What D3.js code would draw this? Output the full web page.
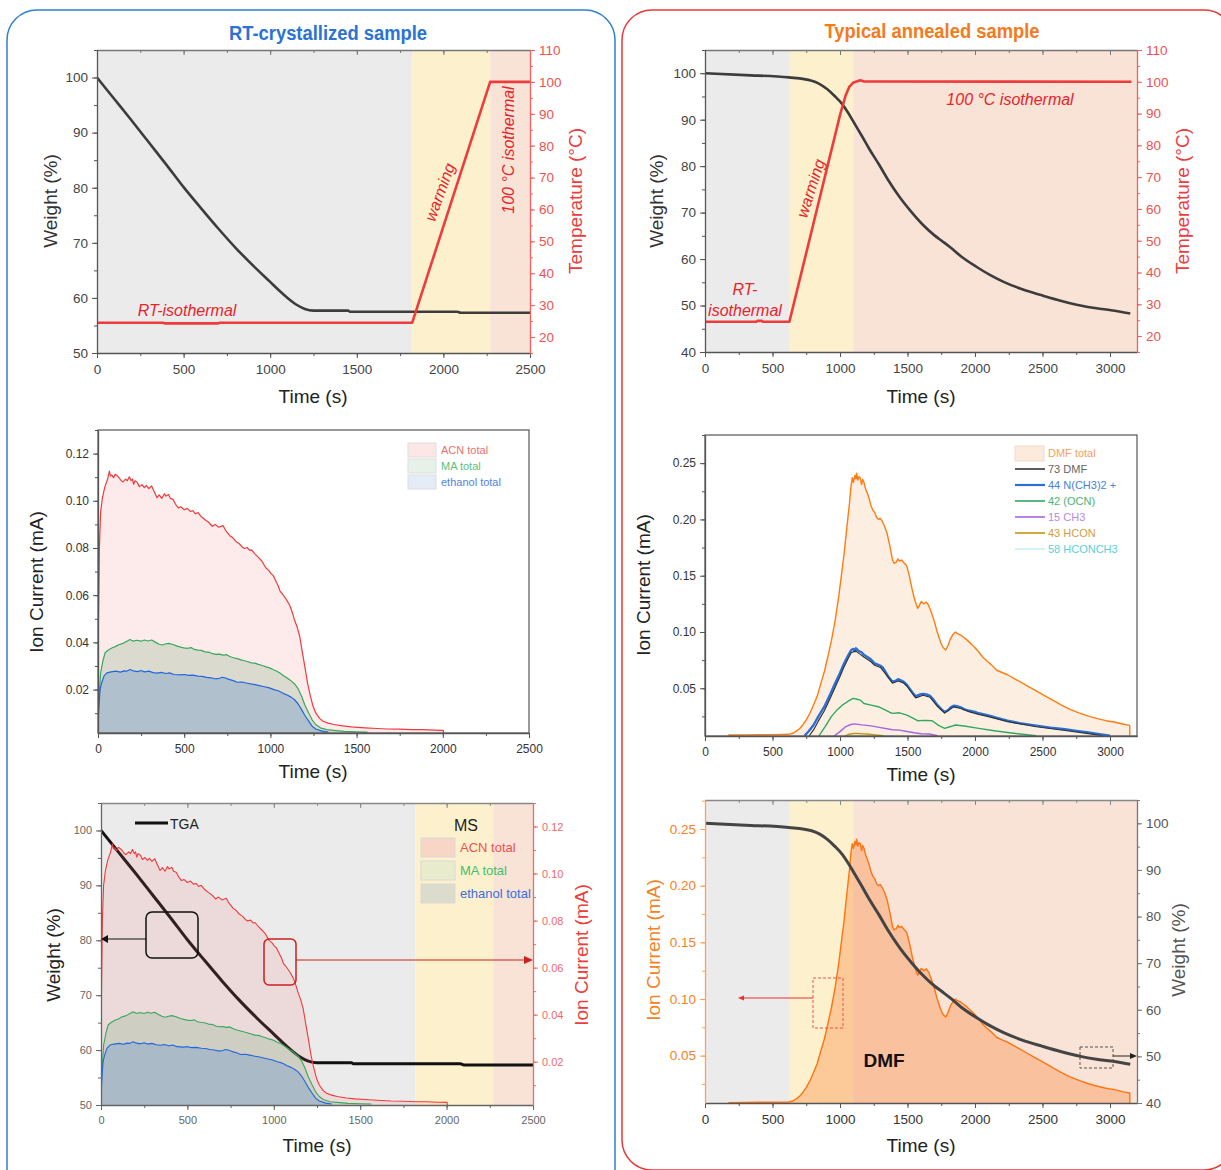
<!DOCTYPE html>
<html>
<head>
<meta charset="utf-8">
<script src="https://cdn.jsdelivr.net/npm/d3@7/dist/d3.min.js"></script>
<style>body{margin:0;background:#fff}</style>
</head>
<body>
<script>
// ---------- data ----------
// TGA of the RT-crystallized sample
const rtWeightTime = [0, 100, 200, 300, 400, 500, 600, 700, 800, 900, 1000, 1050, 1100, 1150, 1200, 1250, 1300, 1450, 1460, 1800, 2080, 2100, 2500]
const rtWeight = [100, 96.1, 92.2, 88.2, 84.2, 80.1, 76.3, 72.6, 69.1, 65.9, 62.9, 61.4, 60.0, 58.8, 58.0, 57.7, 57.7, 57.7, 57.5, 57.5, 57.5, 57.3, 57.3]
const rtTempTime = [0, 380, 390, 700, 710, 1820, 2270, 2500]
const rtTemp = [24.5, 24.5, 24.3, 24.3, 24.5, 24.5, 100, 100]
const rtBandStart = [0, 1820, 2270]
const rtBandEnd = [1820, 2270, 2500]

// MS of the RT-crystallized sample
const acnTime = [0,2,8,15,25,40,55,66,72,80,90,100,114,125,135,145,160,170,182,192,200,207,215,228,240,255,269,280,295,311,325,342,355,370,385,394,410,420,435,450,466,480,500,518,535,550,565,580,600,621,640,663,680,700,725,740,766,780,800,820,835,849,865,880,891,910,932,950,973,990,1005,1015,1030,1045,1056,1070,1085,1098,1115,1130,1139,1155,1170,1185,1201,1216,1232,1247,1263,1285,1305,1335,1367,1420,1470,1550,1620,1678,1750,1820,1885,1950,2003,2004]
const acnIon = [0.020,0.045,0.080,0.095,0.101,0.106,0.109,0.1126,0.1105,0.111,0.1098,0.1112,0.1105,0.1095,0.1085,0.108,0.1092,0.1085,0.1102,0.1085,0.1092,0.107,0.1085,0.1078,0.1060,0.1068,0.1056,0.1065,0.1052,0.1063,0.1040,0.1013,0.1025,0.1010,0.1030,0.1020,0.1027,0.1010,0.1006,0.0985,0.0970,0.0975,0.0962,0.0968,0.0955,0.0958,0.0945,0.0950,0.0932,0.0920,0.0910,0.0892,0.0900,0.0888,0.0895,0.0875,0.0851,0.0845,0.0828,0.0818,0.0805,0.0798,0.0802,0.0790,0.0792,0.0775,0.0759,0.0745,0.0716,0.0705,0.0690,0.0685,0.0662,0.0640,0.0617,0.0605,0.0590,0.0575,0.0552,0.0520,0.0497,0.0465,0.0426,0.0360,0.0292,0.0225,0.0172,0.0130,0.0101,0.0078,0.0066,0.0058,0.0052,0.0046,0.0042,0.0038,0.0035,0.0033,0.0032,0.0030,0.0030,0.0028,0.0027,0.0016]
const maTime = [0,5,15,28,41,60,83,100,120,145,165,186,205,225,249,270,290,311,335,355,373,390,410,435,460,480,497,520,540,559,580,600,621,645,665,684,705,725,746,765,785,808,830,850,870,891,910,930,953,975,995,1015,1035,1055,1077,1095,1115,1139,1160,1181,1200,1222,1242,1263,1290,1326,1380,1429,1500,1564]
const maIon = [0.006,0.015,0.027,0.032,0.0356,0.0368,0.0377,0.0382,0.0390,0.0396,0.0404,0.0412,0.0405,0.0409,0.0405,0.0410,0.0406,0.0410,0.0400,0.0392,0.0389,0.0393,0.0396,0.0391,0.0384,0.0380,0.0377,0.0375,0.0378,0.0370,0.0367,0.0366,0.0360,0.0358,0.0352,0.0349,0.0350,0.0346,0.0348,0.0340,0.0335,0.0331,0.0326,0.0322,0.0318,0.0313,0.0312,0.0307,0.0302,0.0296,0.0292,0.0285,0.0279,0.0270,0.0259,0.0250,0.0240,0.0225,0.0205,0.0172,0.0135,0.0101,0.0072,0.0052,0.0038,0.0030,0.0026,0.0023,0.0021,0.0020]
const ethTime = [0,4,12,21,35,52,75,104,130,150,166,186,205,230,250,269,295,320,345,365,394,415,440,476,500,525,550,580,605,630,655,684,705,720,735,760,785,808,835,860,885,911,935,960,994,1020,1045,1060,1077,1100,1120,1139,1160,1181,1200,1222,1242,1263,1300,1336]
const ethIon = [0.003,0.0115,0.020,0.0228,0.0258,0.0271,0.0275,0.0278,0.0274,0.0279,0.0278,0.0285,0.0279,0.0276,0.0281,0.0275,0.0278,0.0272,0.0270,0.0273,0.0268,0.0271,0.0264,0.0262,0.0264,0.0260,0.0261,0.0257,0.0256,0.0252,0.0250,0.0245,0.0248,0.0252,0.0250,0.0243,0.0238,0.0231,0.0232,0.0228,0.0224,0.0221,0.0217,0.0213,0.0207,0.0200,0.0195,0.0190,0.0183,0.0176,0.0168,0.0158,0.0140,0.0115,0.0090,0.0066,0.0045,0.0033,0.0024,0.0020]

// TGA of the annealed sample
const anWeightTime = [0, 300, 620, 790, 904, 960, 1018, 1060, 1103, 1160, 1217, 1290, 1359, 1440, 1530, 1610, 1700, 1760, 1814, 1900, 2013, 2110, 2212, 2350, 2496, 2640, 2781, 2900, 3008, 3150]
const anWeight = [100, 99.6, 99.1, 98.4, 96.6, 95.1, 93.3, 91.5, 89.4, 86.6, 83.7, 80.3, 76.9, 73.4, 70.1, 67.5, 65.1, 63.8, 62.6, 60.5, 58.3, 56.6, 55.1, 53.5, 52.2, 51.0, 50.0, 49.4, 49.0, 48.3]
const anTempTime = [0, 380, 390, 420, 430, 625, 1000, 1040, 1070, 1100, 1150, 1180, 3159]
const anTemp = [24.5, 24.5, 24.8, 24.8, 24.5, 24.5, 89.5, 95.5, 98.5, 99.8, 100.5, 100.1, 100]
const anBandStart = [0, 622, 1098]
const anBandEnd = [622, 1098, 3200]

// MS of the annealed sample
const dmfTime = [173,300,400,500,618,650,671,700,724,750,777,800,830,855,884,910,937,965,990,1010,1030,1050,1070,1080,1091,1100,1110,1118,1123,1132,1140,1150,1160,1168,1177,1190,1203,1215,1230,1245,1258,1270,1285,1298,1310,1330,1350,1370,1389,1400,1416,1430,1440,1456,1470,1485,1496,1515,1536,1555,1575,1585,1602,1620,1640,1655,1675,1695,1720,1748,1765,1783,1800,1815,1835,1855,1870,1890,1909,1940,1975,2000,2030,2055,2090,2120,2161,2200,2241,2300,2374,2440,2508,2575,2641,2700,2774,2840,2907,2970,3040,3100,3146,3147]
const dmfIon = [0.0085,0.0086,0.0088,0.0088,0.0091,0.0100,0.0115,0.0140,0.0174,0.0220,0.0278,0.0340,0.0426,0.0530,0.0647,0.0780,0.0927,0.1110,0.1310,0.1500,0.1690,0.1920,0.2140,0.2280,0.2370,0.2330,0.2390,0.2360,0.2410,0.2350,0.2380,0.2370,0.2310,0.2355,0.2330,0.2270,0.2230,0.2190,0.2120,0.2080,0.2060,0.2020,0.2000,0.2010,0.1990,0.1940,0.1870,0.1760,0.1640,0.1610,0.1620,0.1650,0.1630,0.1640,0.1620,0.1600,0.1580,0.1490,0.1370,0.1280,0.1210,0.1230,0.1270,0.1250,0.1265,0.1240,0.1180,0.1110,0.1000,0.0900,0.0860,0.0840,0.0880,0.0930,0.0975,0.1000,0.0985,0.0975,0.0960,0.0930,0.0890,0.0860,0.0820,0.0780,0.0740,0.0710,0.0660,0.0640,0.0620,0.0580,0.0530,0.0485,0.0440,0.0395,0.0350,0.0315,0.0280,0.0252,0.0230,0.0212,0.0198,0.0180,0.0170,0.0078]
const m44Time = [737,770,804,840,884,925,964,1000,1030,1060,1083,1100,1110,1118,1140,1160,1177,1200,1230,1256,1280,1300,1320,1336,1360,1389,1410,1430,1443,1470,1496,1520,1545,1562,1580,1600,1615,1640,1668,1695,1722,1750,1775,1800,1820,1842,1870,1895,1922,1960,2000,2028,2100,2170,2241,2330,2454,2560,2667,2750,2827,2910,3000]
const m44Ion = [0.0078,0.0120,0.0174,0.0250,0.0336,0.0440,0.0544,0.0635,0.0720,0.0790,0.0840,0.0850,0.0830,0.0855,0.0830,0.0820,0.0797,0.0780,0.0755,0.0721,0.0710,0.0700,0.0680,0.0647,0.0600,0.0558,0.0565,0.0580,0.0575,0.0560,0.0530,0.0490,0.0450,0.0426,0.0440,0.0448,0.0450,0.0445,0.0432,0.0395,0.0350,0.0315,0.0290,0.0305,0.0330,0.0345,0.0340,0.0330,0.0313,0.0300,0.0290,0.0278,0.0258,0.0235,0.0213,0.0190,0.0168,0.0150,0.0136,0.0122,0.0110,0.0095,0.0078]
const m73Time = [772,804,840,884,925,964,1000,1030,1060,1083,1100,1118,1140,1177,1230,1256,1300,1336,1389,1430,1470,1496,1545,1562,1615,1668,1722,1775,1842,1895,1960,2028,2100,2241,2454,2667,2827,2947]
const m73Ion = [0.0078,0.0130,0.0210,0.0300,0.0405,0.0510,0.0605,0.0690,0.0765,0.0815,0.0825,0.0830,0.0810,0.0778,0.0735,0.0705,0.0685,0.0630,0.0545,0.0565,0.0548,0.0518,0.0438,0.0415,0.0438,0.0420,0.0340,0.0280,0.0335,0.0320,0.0290,0.0268,0.0248,0.0203,0.0158,0.0125,0.0100,0.0078]
const m42Time = [844,890,937,980,1017,1060,1097,1120,1150,1177,1230,1283,1330,1370,1389,1440,1496,1540,1575,1630,1682,1730,1775,1820,1855,1920,2028,2130,2241,2350,2454]
const m42Ion = [0.0078,0.0160,0.0250,0.0310,0.0350,0.0385,0.0410,0.0405,0.0395,0.0365,0.0350,0.0336,0.0310,0.0285,0.0277,0.0282,0.0262,0.0235,0.0212,0.0215,0.0212,0.0170,0.0144,0.0160,0.0174,0.0165,0.0144,0.0125,0.0107,0.0092,0.0078]
const m15Time = [958,1000,1043,1080,1110,1160,1230,1300,1389,1440,1496,1550,1602,1660,1722]
const m15Ion = [0.0078,0.0115,0.0160,0.0178,0.0184,0.0175,0.0166,0.0150,0.0131,0.0128,0.0116,0.0105,0.0096,0.0094,0.0078]
const m43Time = [1040,1070,1100,1123,1160,1203,1260,1323]
const m43Ion = [0.0080,0.0092,0.0098,0.0099,0.0096,0.0094,0.0086,0.0078]
const m58Time = [1050, 1400]
const m58Ion = [0.0079, 0.0079]

const msLegendRT = ['ACN total', 'MA total', 'ethanol total']
const msLegendAn = ['DMF total', '73 DMF', '44 N(CH3)2 +', '42 (OCN)', '15 CH3', '43 HCON', '58 HCONCH3']

// ---------- drawing ----------
const F = '"Liberation Sans", Arial, Helvetica, sans-serif'
let svg = d3.select('body').append('svg')
    .attr('width', 1221).attr('height', 1170)
    .style('font-family', F)

let defs = svg.append('defs')
let clipN = 0

function panel(x0, x1, y0, y1, tMax) {
    let id = 'clip' + (++clipN)
    defs.append('clipPath').attr('id', id)
        .append('rect').attr('x', x0).attr('y', y0).attr('width', x1 - x0).attr('height', y1 - y0)
    let g = svg.append('g')
    let x = d3.scaleLinear().domain([0, tMax]).range([x0, x1])
    return { g, x, x0, x1, y0, y1, clip: 'url(#' + id + ')' }
}

function axis(p, scale, side, majors, minors, lineCol, textCol, fs, fmt) {
    let mk = { left: d3.axisLeft, right: d3.axisRight, top: d3.axisTop, bottom: d3.axisBottom }[side]
    let pos = { left: [p.x0, 0], right: [p.x1, 0], top: [0, p.y0], bottom: [0, p.y1] }[side]
    let inward = side === 'top'
    let g = p.g.append('g').attr('transform', 'translate(' + pos[0] + ',' + pos[1] + ')')
    if (minors) {
        g.append('g').call(mk(scale).tickValues(minors).tickSize(inward ? -3 : 3).tickSizeOuter(0).tickFormat(''))
            .call(s => {
                s.selectAll('line').attr('stroke', lineCol)
                s.select('.domain').attr('stroke', lineCol)
            })
    }
    let a = g.append('g').call(mk(scale).tickValues(majors).tickSize(inward ? -5 : 5).tickSizeOuter(0)
        .tickPadding(side === 'bottom' ? 6 : 4)
        .tickFormat(fmt || (() => '')))
    a.attr('font-family', F).attr('font-size', fs)
    a.selectAll('line').attr('stroke', lineCol).attr('stroke-width', 1)
    a.select('.domain').attr('stroke', lineCol).attr('stroke-width', 1.3)
    a.selectAll('text').attr('fill', textCol)
}

function title(txt, x, y, color, rot, size) {
    svg.append('text').text(txt)
        .attr('transform', 'translate(' + x + ',' + y + ')' + (rot ? ' rotate(' + rot + ')' : ''))
        .attr('text-anchor', 'middle').attr('dominant-baseline', 'middle')
        .attr('font-size', size || 19).attr('fill', color)
}

function bands(p, starts, ends) {
    let cols = ['#ebebeb', '#fdf1cd', '#f9e2d6']
    p.g.selectAll(null).data(d3.range(starts.length)).enter().append('rect')
        .attr('x', i => p.x(starts[i])).attr('width', i => p.x(ends[i]) - p.x(starts[i]))
        .attr('y', p.y0).attr('height', p.y1 - p.y0)
        .attr('fill', i => cols[i])
}

function line(p, ys, ts, vs, color, w, smooth) {
    return p.g.append('path').datum(d3.zip(ts, vs))
        .attr('clip-path', p.clip)
        .attr('fill', 'none').attr('stroke', color).attr('stroke-width', w)
        .attr('stroke-linejoin', 'round')
        .attr('d', d3.line().curve(smooth ? d3.curveMonotoneX : d3.curveLinear)
            .x(d => p.x(d[0])).y(d => ys(d[1])))
}

function area(p, ys, ts, vs, fill, op) {
    return p.g.append('path').datum(d3.zip(ts, vs))
        .attr('clip-path', p.clip)
        .attr('fill', fill).attr('fill-opacity', op)
        .attr('d', d3.area().x(d => p.x(d[0])).y0(ys.range()[0]).y1(d => ys(d[1])))
}

const fmt2 = d3.format('.2f')
const dark = '#444'
const red = '#ee3b3b'
const orange = '#f7801f'

// frames and titles
svg.append('rect').attr('x', 7).attr('y', 10).attr('width', 608).attr('height', 1195).attr('rx', 30)
    .attr('fill', 'none').attr('stroke', '#2f7fd3').attr('stroke-width', 1.5)
svg.append('rect').attr('x', 622).attr('y', 10).attr('width', 612).attr('height', 1160).attr('rx', 30)
    .attr('fill', 'none').attr('stroke', '#e8393a').attr('stroke-width', 1.5)
svg.append('text').text('RT-crystallized sample').attr('x', 328).attr('y', 40)
    .attr('text-anchor', 'middle').attr('font-weight', 'bold').attr('font-size', 20)
    .attr('textLength', 198).attr('lengthAdjust', 'spacingAndGlyphs').attr('fill', '#2a72d4')
svg.append('text').text('Typical annealed sample').attr('x', 932).attr('y', 38)
    .attr('text-anchor', 'middle').attr('font-weight', 'bold').attr('font-size', 20)
    .attr('textLength', 215).attr('lengthAdjust', 'spacingAndGlyphs').attr('fill', '#f47a1c')

const t2500 = [0, 500, 1000, 1500, 2000, 2500]
const t2500m = d3.range(0, 2501, 250)
const t3000 = [0, 500, 1000, 1500, 2000, 2500, 3000]
const t3000m = d3.range(0, 3201, 250)
const w50 = [50, 60, 70, 80, 90, 100]
const w50m = d3.range(50, 106, 5)
const w40 = [40, 50, 60, 70, 80, 90, 100]
const w40m = d3.range(40, 106, 5)
const temps = d3.range(20, 111, 10)
const tempsM = d3.range(15, 111, 5)

// ---------- panel 1: RT TGA ----------
let p1 = panel(97, 530, 50, 353, 2500)
let p1w = d3.scaleLinear().domain([50, 105]).range([353, 50])
let p1t = d3.scaleLinear().domain([15, 110]).range([353, 50])
bands(p1, rtBandStart, rtBandEnd)
line(p1, p1w, rtWeightTime, rtWeight, '#3c3c3c', 2.6, true)
line(p1, p1t, rtTempTime, rtTemp, red, 2.6)
axis(p1, p1.x, 'top', t2500, t2500m, '#777', dark, 13)
axis(p1, p1.x, 'bottom', t2500, t2500m, '#555', dark, 13.5, d3.format('d'))
axis(p1, p1w, 'left', w50, w50m, '#555', dark, 13.5, d3.format('d'))
axis(p1, p1t, 'right', temps, tempsM, '#f06060', '#f05050', 13.5, d3.format('d'))
title('Weight (%)', 52, 201, '#333', -90)
title('Temperature (°C)', 577, 201, red, -90)
title('Time (s)', 313, 398, '#222')
svg.append('text').text('RT-isothermal').attr('x', 187).attr('y', 316).attr('text-anchor', 'middle')
    .attr('font-size', 16).attr('font-style', 'italic').attr('fill', '#e8232a')
svg.append('text').text('warming').attr('transform', 'translate(445,194) rotate(-70)').attr('text-anchor', 'middle')
    .attr('font-size', 16).attr('font-style', 'italic').attr('fill', '#e8232a')
svg.append('text').text('100 °C isothermal').attr('transform', 'translate(514,150) rotate(-90)').attr('text-anchor', 'middle')
    .attr('font-size', 16).attr('font-style', 'italic').attr('fill', '#e8232a')

// ---------- panel 2: RT MS ----------
let p2 = panel(98, 529, 430, 733, 2500)
let p2y = d3.scaleLinear().domain([0.0016, 0.130]).range([733, 430])
area(p2, p2y, acnTime, acnIon, '#f07878', 0.15)
area(p2, p2y, maTime, maIon, '#8cb48c', 0.3)
area(p2, p2y, ethTime, ethIon, '#85a6c9', 0.5)
line(p2, p2y, acnTime, acnIon, '#f03a3a', 1.2)
line(p2, p2y, maTime, maIon, '#36a85e', 1.2)
line(p2, p2y, ethTime, ethIon, '#2266dd', 1.2)
p2.g.append('rect').attr('x', 98).attr('y', 430).attr('width', 431).attr('height', 303)
    .attr('fill', 'none').attr('stroke', '#555').attr('stroke-width', 1.2)
axis(p2, p2.x, 'bottom', t2500, t2500m, '#555', '#333', 12, d3.format('d'))
axis(p2, p2y, 'left', [0.02, 0.04, 0.06, 0.08, 0.10, 0.12], d3.range(0.01, 0.131, 0.01), '#555', '#333', 12, fmt2)
title('Ion Current (mA)', 38, 582, '#222', -90)
title('Time (s)', 313, 773, '#222')
let lg2 = p2.g.append('g')
let lg2Fill = ['#fde6e6', '#e6f2e8', '#e4ecf8']
let lg2Text = ['#f07070', '#5cc080', '#5582e0']
lg2.selectAll('rect').data(msLegendRT).enter().append('rect')
    .attr('x', 408).attr('y', (d, i) => 443 + i * 16).attr('width', 28).attr('height', 14)
    .attr('fill', (d, i) => lg2Fill[i]).attr('stroke', '#ddd')
lg2.selectAll('text').data(msLegendRT).enter().append('text')
    .attr('x', 441).attr('y', (d, i) => 454 + i * 16).text(d => d)
    .attr('font-size', 11).attr('fill', (d, i) => lg2Text[i])

// ---------- panel 3: RT overlay ----------
let p3 = panel(101, 533, 803, 1105, 2500)
let p3w = d3.scaleLinear().domain([50, 105]).range([1105, 803])
let p3i = d3.scaleLinear().domain([0.0016, 0.130]).range([1105, 803])
bands(p3, rtBandStart, rtBandEnd)
line(p3, p3w, rtWeightTime, rtWeight, '#111', 3, true)
area(p3, p3i, acnTime, acnIon, '#f07878', 0.15)
area(p3, p3i, maTime, maIon, '#8cb48c', 0.3)
area(p3, p3i, ethTime, ethIon, '#85a6c9', 0.5)
line(p3, p3i, acnTime, acnIon, '#f03a3a', 1.1)
line(p3, p3i, maTime, maIon, '#36a85e', 1.1)
line(p3, p3i, ethTime, ethIon, '#2266dd', 1.1)
axis(p3, p3.x, 'top', t2500, t2500m, '#888', dark, 11)
axis(p3, p3.x, 'bottom', t2500, t2500m, '#666', '#666', 11, d3.format('d'))
axis(p3, p3w, 'left', w50, w50m, '#666', '#666', 11, d3.format('d'))
axis(p3, p3i, 'right', [0.02, 0.04, 0.06, 0.08, 0.10, 0.12], d3.range(0.01, 0.131, 0.01), '#f06a6a', '#f06a6a', 11, fmt2)
title('Weight (%)', 55, 955, '#222', -90)
title('Ion Current (mA)', 583, 955, red, -90)
title('Time (s)', 317, 1147, '#222')
// legend
p3.g.append('line').attr('x1', 135).attr('x2', 168).attr('y1', 823).attr('y2', 823)
    .attr('stroke', '#111').attr('stroke-width', 3)
p3.g.append('text').text('TGA').attr('x', 170).attr('y', 829).attr('font-size', 14).attr('fill', '#222')
p3.g.append('text').text('MS').attr('x', 466).attr('y', 831).attr('text-anchor', 'middle').attr('font-size', 16).attr('fill', '#222')
let lg3Fill = ['#f8d6c6', '#e8ebcc', '#dcdccd']
let lg3Text = ['#f05050', '#3fbf6c', '#3a6ee0']
p3.g.selectAll(null).data(msLegendRT).enter().append('rect')
    .attr('x', 421).attr('y', (d, i) => 838 + i * 23).attr('width', 34).attr('height', 19)
    .attr('fill', (d, i) => lg3Fill[i]).attr('stroke', '#d8d8d8')
p3.g.selectAll(null).data(msLegendRT).enter().append('text')
    .attr('x', 460).attr('y', (d, i) => 852 + i * 23).text(d => d)
    .attr('font-size', 13).attr('fill', (d, i) => lg3Text[i])
// callouts
p3.g.append('rect').attr('x', 146).attr('y', 912).attr('width', 52).attr('height', 46).attr('rx', 6)
    .attr('fill', 'none').attr('stroke', '#111').attr('stroke-width', 1.5)
p3.g.append('line').attr('x1', 146).attr('x2', 106).attr('y1', 939).attr('y2', 939).attr('stroke', '#111')
p3.g.append('path').attr('d', 'M101,939 L108,935 L108,943 Z').attr('fill', '#111')
p3.g.append('rect').attr('x', 264).attr('y', 939).attr('width', 32).attr('height', 46).attr('rx', 5)
    .attr('fill', 'none').attr('stroke', '#cc2020').attr('stroke-width', 1.5)
p3.g.append('line').attr('x1', 296).attr('x2', 526).attr('y1', 960).attr('y2', 960).attr('stroke', '#cc2020')
p3.g.append('path').attr('d', 'M533,960 L524,956 L524,964 Z').attr('fill', '#cc2020')

// ---------- panel 4: annealed TGA ----------
let p4 = panel(705, 1137, 50, 352, 3200)
let p4w = d3.scaleLinear().domain([40, 105]).range([352, 50])
let p4t = d3.scaleLinear().domain([15, 110]).range([352, 50])
bands(p4, anBandStart, anBandEnd)
line(p4, p4w, anWeightTime, anWeight, '#3c3c3c', 2.6, true)
line(p4, p4t, anTempTime, anTemp, red, 2.6)
axis(p4, p4.x, 'top', t3000, t3000m, '#777', dark, 13)
axis(p4, p4.x, 'bottom', t3000, t3000m, '#555', dark, 13.5, d3.format('d'))
axis(p4, p4w, 'left', w40, w40m, '#555', dark, 13.5, d3.format('d'))
axis(p4, p4t, 'right', temps, tempsM, '#f06060', '#f05050', 13.5, d3.format('d'))
title('Weight (%)', 658, 201, '#333', -90)
title('Temperature (°C)', 1184, 201, red, -90)
title('Time (s)', 921, 398, '#222')
svg.append('text').text('100 °C isothermal').attr('x', 1010).attr('y', 105).attr('text-anchor', 'middle')
    .attr('font-size', 16).attr('font-style', 'italic').attr('fill', '#e8232a')
svg.append('text').text('warming').attr('transform', 'translate(816,190) rotate(-72)').attr('text-anchor', 'middle')
    .attr('font-size', 16).attr('font-style', 'italic').attr('fill', '#e8232a')
svg.append('text').text('RT-').attr('x', 745).attr('y', 295).attr('text-anchor', 'middle')
    .attr('font-size', 16).attr('font-style', 'italic').attr('fill', '#e8232a')
svg.append('text').text('isothermal').attr('x', 745).attr('y', 316).attr('text-anchor', 'middle')
    .attr('font-size', 16).attr('font-style', 'italic').attr('fill', '#e8232a')

// ---------- panel 5: annealed MS ----------
let p5 = panel(705, 1137, 435, 736, 3200)
let p5y = d3.scaleLinear().domain([0.0076, 0.275]).range([736, 435])
area(p5, p5y, dmfTime, dmfIon, '#fcefe1', 1)
line(p5, p5y, dmfTime, dmfIon, '#ff7c12', 1.4)
line(p5, p5y, m58Time, m58Ion, '#c8f2f2', 1.2)
line(p5, p5y, m43Time, m43Ion, '#c8940a', 1.4)
line(p5, p5y, m15Time, m15Ion, '#a464e0', 1.4)
line(p5, p5y, m42Time, m42Ion, '#2ea862', 1.4)
line(p5, p5y, m44Time, m44Ion, '#2a6fd8', 2.4)
line(p5, p5y, m73Time, m73Ion, '#333', 1.2)
p5.g.append('rect').attr('x', 705).attr('y', 435).attr('width', 432).attr('height', 301)
    .attr('fill', 'none').attr('stroke', '#555').attr('stroke-width', 1.2)
axis(p5, p5.x, 'bottom', t3000, t3000m, '#555', '#333', 12, d3.format('d'))
axis(p5, p5y, 'left', [0.05, 0.10, 0.15, 0.20, 0.25], d3.range(0.025, 0.276, 0.025), '#555', '#333', 12, fmt2)
title('Ion Current (mA)', 645, 585, '#222', -90)
title('Time (s)', 921, 776, '#222')
let lg5Line = [null, '#333', '#2a6fd8', '#2ea862', '#a464e0', '#c8940a', '#c8f2f2']
let lg5Text = ['#f8a060', '#666', '#4a80e0', '#50b070', '#b888e8', '#d0a040', '#5cd0d8']
let lg5 = p5.g.append('g')
lg5.append('rect').attr('x', 1015).attr('y', 446).attr('width', 29).attr('height', 15)
    .attr('fill', '#fcebdc').attr('stroke', '#f0dccc')
lg5.selectAll('line').data(msLegendAn.slice(1)).enter().append('line')
    .attr('x1', 1015).attr('x2', 1045).attr('y1', (d, i) => 469 + i * 16).attr('y2', (d, i) => 469 + i * 16)
    .attr('stroke', (d, i) => lg5Line[i + 1]).attr('stroke-width', (d, i) => i === 1 ? 2.2 : 1.6)
lg5.selectAll('text').data(msLegendAn).enter().append('text')
    .attr('x', 1048).attr('y', (d, i) => 457 + i * 16).text(d => d)
    .attr('font-size', 11).attr('fill', (d, i) => lg5Text[i])

// ---------- panel 6: annealed overlay ----------
let p6 = panel(705, 1137, 800, 1103, 3200)
let p6i = d3.scaleLinear().domain([0.0082, 0.2756]).range([1103, 800])
let p6w = d3.scaleLinear().domain([40, 105]).range([1103, 800])
bands(p6, anBandStart, anBandEnd)
area(p6, p6i, dmfTime, dmfIon, '#fb9a5a', 0.45)
line(p6, p6i, dmfTime, dmfIon, '#ff7410', 1.4)
line(p6, p6w, anWeightTime, anWeight, '#444', 3, true)
axis(p6, p6.x, 'top', t3000, t3000m, '#888', dark, 13)
axis(p6, p6.x, 'bottom', t3000, t3000m, '#555', '#333', 13.5, d3.format('d'))
axis(p6, p6i, 'left', [0.05, 0.10, 0.15, 0.20, 0.25], d3.range(0.025, 0.276, 0.025), '#f7a060', orange, 13.5, fmt2)
axis(p6, p6w, 'right', w40, w40m, '#777', '#555', 13.5, d3.format('d'))
title('Ion Current (mA)', 655, 950, orange, -90)
title('Weight (%)', 1180, 950, '#555', -90)
title('Time (s)', 921, 1147, '#222')
p6.g.append('text').text('DMF').attr('x', 884).attr('y', 1067).attr('text-anchor', 'middle')
    .attr('font-size', 19).attr('font-weight', 'bold').attr('fill', '#111')
p6.g.append('rect').attr('x', 813).attr('y', 978).attr('width', 30).attr('height', 50)
    .attr('fill', 'none').attr('stroke', '#f05050').attr('stroke-dasharray', '3,2')
p6.g.append('line').attr('x1', 813).attr('x2', 742).attr('y1', 998).attr('y2', 998).attr('stroke', '#e83030')
p6.g.append('path').attr('d', 'M738,998 L744,995.5 L744,1000.5 Z').attr('fill', '#e83030')
p6.g.append('rect').attr('x', 1080).attr('y', 1047).attr('width', 33).attr('height', 21)
    .attr('fill', 'none').attr('stroke', '#555').attr('stroke-dasharray', '3,2')
p6.g.append('line').attr('x1', 1113).attr('x2', 1132).attr('y1', 1056).attr('y2', 1056).attr('stroke', '#222')
p6.g.append('path').attr('d', 'M1137,1056 L1130,1053 L1130,1059 Z').attr('fill', '#222')
</script>
</body>
</html>
